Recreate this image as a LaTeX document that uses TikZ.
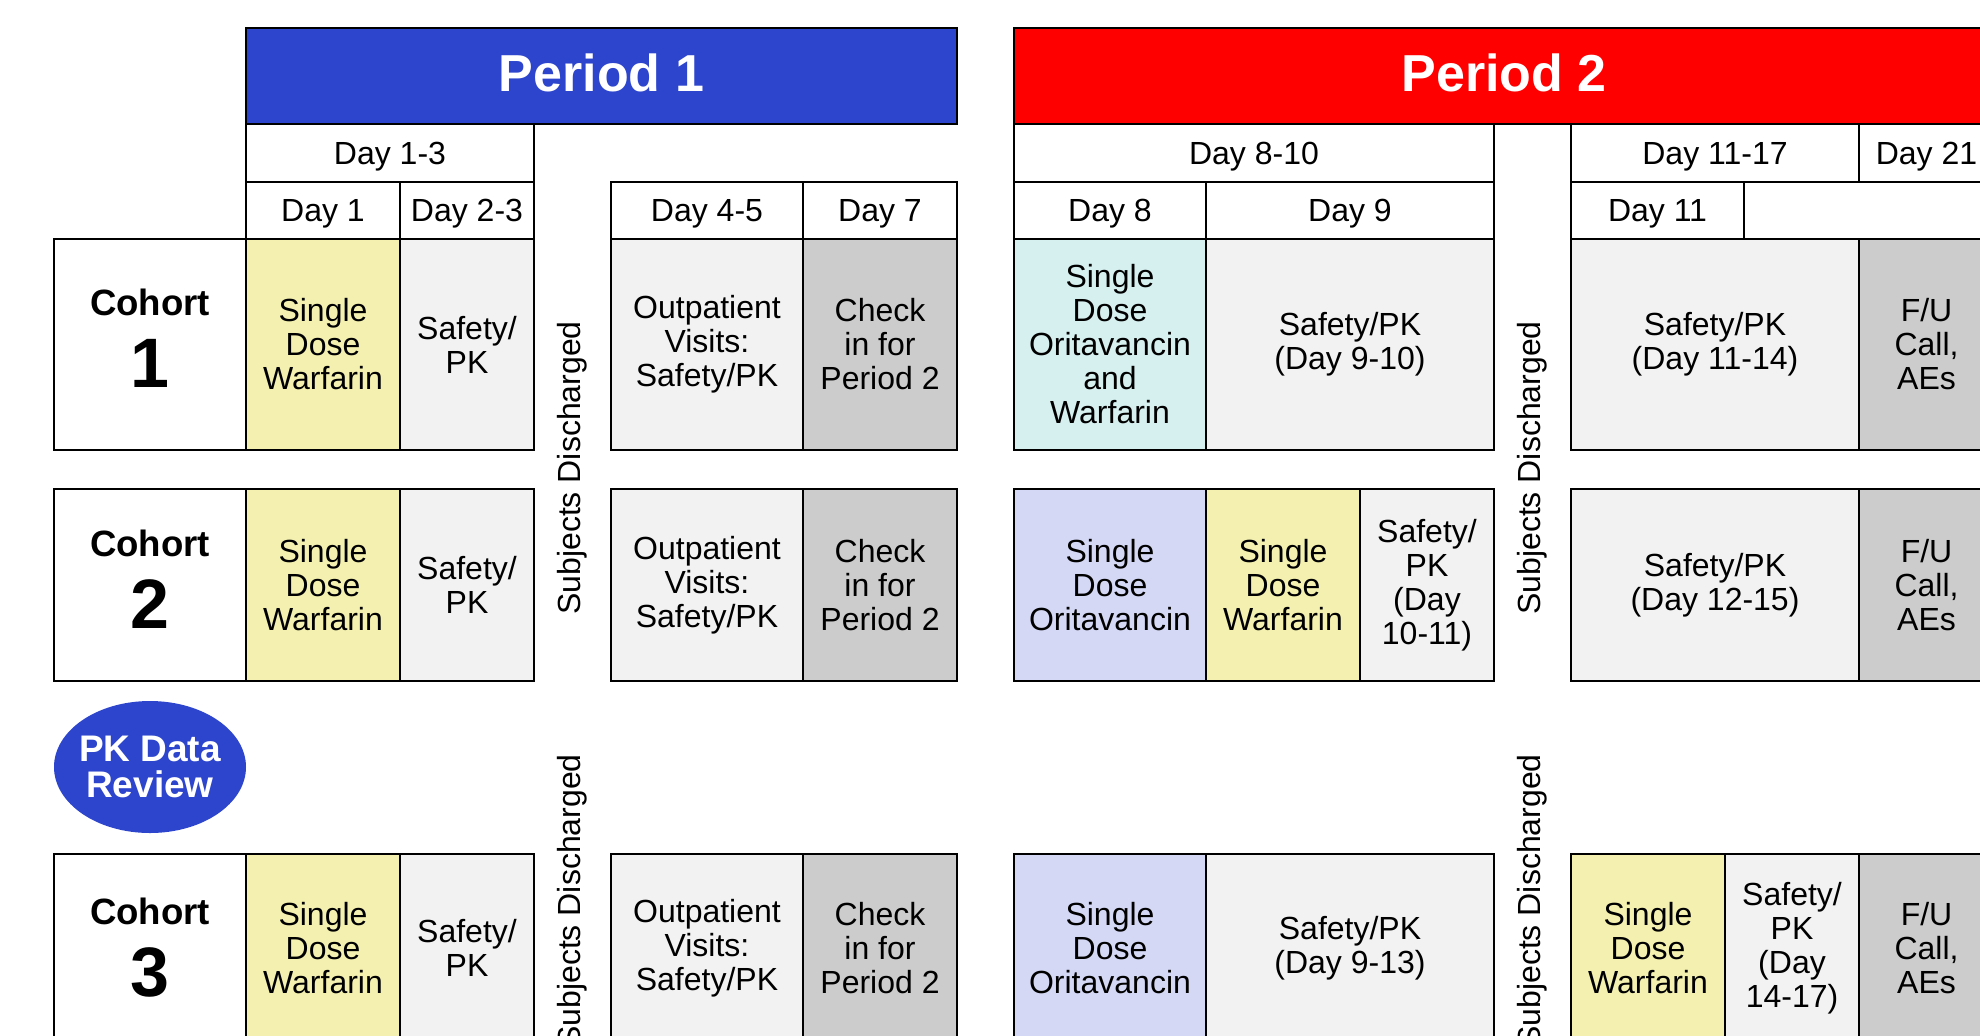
\documentclass[tikz,border=0pt]{standalone}
\usepackage{fontspec}
\setmainfont{Liberation Sans}
\usetikzlibrary{shapes.geometric}
\definecolor{pblue}{RGB}{44,69,204}
\definecolor{pred}{RGB}{255,0,0}
\definecolor{cyel}{RGB}{244,241,176}
\definecolor{clg}{RGB}{242,242,242}
\definecolor{cdg}{RGB}{204,204,204}
\definecolor{cteal}{RGB}{214,239,239}
\definecolor{clav}{RGB}{213,216,245}
\newcommand\cellbox[7]{\node[#6, minimum width={(#4-#2)*0.5pt}, minimum height={(#5-#3)*0.5pt}] (#1) at ({(#2+#4)/2},{(#3+#5)/2}) {#7};}
\newcommand\dropdepth[1]{\rule[-#1]{0pt}{#1}}
\begin{document}
\begin{tikzpicture}[x=0.5pt,y=-0.5pt,
  base/.style={draw=black, line width=0.8pt, inner sep=0pt, outer sep=0pt, align=center, font=\fontsize{16pt}{17pt}\selectfont},
  hdr/.style={base, fill=white, text height=12pt, text depth=0.7pt},
  wht/.style={base, fill=white, font=\bfseries\fontsize{18.3pt}{36pt}\selectfont},
  yel/.style={base, fill=cyel},
  lg/.style={base, fill=clg},
  dg/.style={base, fill=cdg},
  teal/.style={base, fill=cteal},
  lav/.style={base, fill=clav},
  pbar/.style={base, line width=1pt, text=white, font=\bfseries\fontsize{26pt}{26pt}\selectfont},
  disc/.style={rotate=90, inner sep=0pt, font=\fontsize{16pt}{17pt}\selectfont}]
\useasboundingbox (0,0) rectangle (1980,1035);
\clip (0,0) rectangle (1980,1035);
% period bars
\cellbox{p1}{246}{28}{957}{124}{pbar, fill=pblue}{Period 1\dropdepth{3pt}}
\cellbox{p2}{1014}{28}{1994}{124}{pbar, fill=pred}{Period 2\dropdepth{3pt}}
% headers
\cellbox{d13}{246}{124}{534}{182}{hdr}{Day 1-3}
\cellbox{d1}{246}{182}{400}{239}{hdr}{Day 1}
\cellbox{d23}{400}{182}{534}{239}{hdr}{Day 2-3}
\cellbox{d45}{611}{182}{803}{239}{hdr}{Day 4-5}
\cellbox{d7}{803}{182}{957}{239}{hdr}{Day 7}
\cellbox{d810}{1014}{124}{1494}{182}{hdr}{Day 8-10}
\cellbox{d8}{1014}{182}{1206}{239}{hdr}{Day 8}
\cellbox{d9}{1206}{182}{1494}{239}{hdr}{Day 9}
\cellbox{d1117}{1571}{124}{1859}{182}{hdr}{Day 11-17}
\cellbox{d21}{1859}{124}{1994}{182}{hdr}{Day 21}
\cellbox{d11}{1571}{182}{1744}{239}{hdr}{Day 11}
\cellbox{dblank}{1744}{182}{1994}{239}{hdr}{}
% cohort 1
\cellbox{c1}{54}{239}{246}{450}{wht}{Cohort\\{\fontsize{35pt}{36pt}\selectfont 1}\dropdepth{6pt}}
\cellbox{c1a}{246}{239}{400}{450}{yel}{Single\\Dose\\Warfarin}
\cellbox{c1b}{400}{239}{534}{450}{lg}{Safety/\\PK}
\cellbox{c1c}{611}{239}{803}{450}{lg}{Outpatient\\Visits:\\Safety/PK}
\cellbox{c1d}{803}{239}{957}{450}{dg}{Check\\in for\\Period 2}
\cellbox{c1e}{1014}{239}{1206}{450}{teal}{Single\\Dose\\Oritavancin\\and\\Warfarin}
\cellbox{c1f}{1206}{239}{1494}{450}{lg}{Safety/PK\\(Day 9-10)}
\cellbox{c1g}{1571}{239}{1859}{450}{lg}{Safety/PK\\(Day 11-14)}
\cellbox{c1h}{1859}{239}{1994}{450}{dg}{F/U\\Call,\\AEs}
% cohort 2
\cellbox{c2}{54}{489}{246}{681}{wht}{Cohort\\{\fontsize{35pt}{36pt}\selectfont 2}\dropdepth{6pt}}
\cellbox{c2a}{246}{489}{400}{681}{yel}{Single\\Dose\\Warfarin}
\cellbox{c2b}{400}{489}{534}{681}{lg}{Safety/\\PK}
\cellbox{c2c}{611}{489}{803}{681}{lg}{Outpatient\\Visits:\\Safety/PK}
\cellbox{c2d}{803}{489}{957}{681}{dg}{Check\\in for\\Period 2}
\cellbox{c2e}{1014}{489}{1206}{681}{lav}{Single\\Dose\\Oritavancin}
\cellbox{c2f}{1206}{489}{1360}{681}{yel}{Single\\Dose\\Warfarin}
\cellbox{c2g}{1360}{489}{1494}{681}{lg}{Safety/\\PK\\(Day\\10-11)}
\cellbox{c2h}{1571}{489}{1859}{681}{lg}{Safety/PK\\(Day 12-15)}
\cellbox{c2i}{1859}{489}{1994}{681}{dg}{F/U\\Call,\\AEs}
% PK data review
\node[ellipse, fill=pblue, minimum width=96pt, minimum height=66pt, inner sep=0pt] (pk) at (150,767) {};
\node[inner sep=0pt, text=white, align=center, font=\bfseries\fontsize{18.5pt}{17.8pt}\selectfont] (pktext) at (pk.center) {PK Data\\Review};
% cohort 3
\cellbox{c3}{54}{854}{246}{1042}{wht}{Cohort\\{\fontsize{35pt}{36pt}\selectfont 3}}
\cellbox{c3a}{246}{854}{400}{1042}{yel}{Single\\Dose\\Warfarin}
\cellbox{c3b}{400}{854}{534}{1042}{lg}{Safety/\\PK}
\cellbox{c3c}{611}{854}{803}{1042}{lg}{Outpatient\\Visits:\\Safety/PK}
\cellbox{c3d}{803}{854}{957}{1042}{dg}{Check\\in for\\Period 2}
\cellbox{c3e}{1014}{854}{1206}{1042}{lav}{Single\\Dose\\Oritavancin}
\cellbox{c3f}{1206}{854}{1494}{1042}{lg}{Safety/PK\\(Day 9-13)}
\cellbox{c3g}{1571}{854}{1725}{1042}{yel}{Single\\Dose\\Warfarin}
\cellbox{c3h}{1725}{854}{1859}{1042}{lg}{Safety/\\PK\\(Day\\14-17)}
\cellbox{c3i}{1859}{854}{1994}{1042}{dg}{F/U\\Call,\\AEs}
% discharge labels
\node[disc] (sd1) at (572.5,468) {Subjects Discharged};
\node[disc] (sd2) at (572.5,901) {Subjects Discharged};
\node[disc] (sd3) at (1532.5,468) {Subjects Discharged};
\node[disc] (sd4) at (1532.5,901) {Subjects Discharged};
\end{tikzpicture}
\end{document}
